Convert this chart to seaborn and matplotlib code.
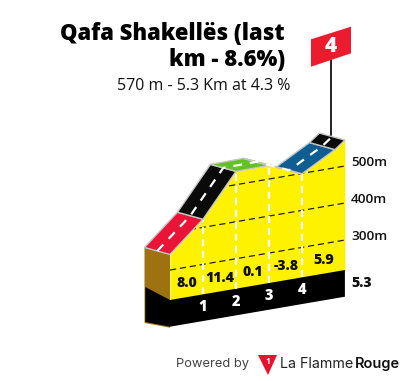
import numpy as np
import pandas as pd
import matplotlib
matplotlib.use("Agg")
import matplotlib.pyplot as plt
from matplotlib.patches import Polygon
import seaborn as sns

sns.set_theme(style="white")
plt.rcParams['font.family'] = ['Open Sans', 'DejaVu Sans']

# Data
km = [0, 1, 2, 3, 4, 5, 5.3]
altitude = [342, 422, 536, 537, 499, 549, 570]
segment_colors = ["#EA1436", "#0A0A0A", "#62C221", "#FFFFFF", "#0F5E92", "#0A0A0A"]
grades = ["8.0", "11.4", "0.1", "-3.8", "5.9"]
grade_starts = [0, 1, 2, 3, 4]
grade_ends = [1, 2, 3, 4, 5.3]
km_ticks = [1, 2, 3, 4]
grid_levels = [300, 400, 500]
grid_labels = ["300m", "400m", "500m"]
total_label = "5.3"
title = "Qafa Shakellës (last\nkm - 8.6%)"
subtitle = "570 m - 5.3 Km at 4.3 %"
flag_label = "4"

# Oblique projection (km, metres) -> figure pixels
X0, Y0, KX, KY, MY, BASE_ALT = 170.0, 300.0, 33.0, -5.66, 0.37, 219.0
DX, DY = -25.5, -7.0
def px(k):
    return X0 + KX * np.asarray(k, dtype=float)
def py(k, a=None):
    base = Y0 + KY * np.asarray(k, dtype=float)
    return base if a is None else base - MY * (np.asarray(a, dtype=float) - BASE_ALT)

fig = plt.figure(figsize=(4.05, 3.81), dpi=100)
ax = fig.add_axes([0, 0, 1, 1])
ax.set_xlim(0, 405); ax.set_ylim(381, 0); ax.axis("off")

kma, alta = np.array(km), np.array(altitude)
xs, ys = px(kma), py(kma, alta)
total = kma[-1]

# base slab and left face
bx, by = px([0, total]), py([0, total])
H = 26.7
BROWN = "#9E7210"
lx = bx[0] + DX
ax.add_patch(Polygon([(lx, ys[0]+DY), (xs[0], ys[0]), (bx[0], by[0]+H+1.0), (lx, by[0]+H-3.7)], fc=BROWN, ec="none", zorder=1))
ax.add_patch(Polygon([(lx+0.8, by[0]-13), (bx[0], by[0]), (bx[1], by[1]), (bx[1], by[1]+H), (bx[0], by[0]+H), (lx+0.8, by[0]+H-4.7)], fc="#000000", ec="none", zorder=3))

# yellow front face
front = pd.DataFrame({"km": km, "alt": altitude, "x": xs, "y": ys})
ax.fill_between(front["x"], front["y"], py(kma), color="#FFF200", lw=0, zorder=2)
clip = Polygon(list(zip(xs, ys)) + [(bx[1], by[1]), (bx[0], by[0])], transform=ax.transData, fc="none", ec="none")
ax.add_patch(clip)

# grid
for lev, lab in zip(grid_levels, grid_labels):
    gx = px([0, total]); gy = py([0, total], [lev, lev])
    sns.lineplot(x=gx, y=gy, ax=ax, color="#222222", lw=0.9, zorder=3, legend=False)
    l = ax.lines[-1]; l.set_linestyle((0, (5, 3))); l.set_clip_path(clip)
    ax.text(gx[1]+6, gy[1]-3.6, lab, fontsize=9.7, fontweight="semibold", color="#111111", va="center", ha="left", zorder=6)

# km tick dashes
for k in km_ticks:
    tx = px([k, k]); ty = [py(k), py(k, altitude[km.index(k)])]
    sns.lineplot(x=tx, y=ty, ax=ax, color="white", lw=1.6, zorder=4, legend=False, estimator=None, sort=False)
    ax.lines[-1].set_linestyle((0, (3.2, 2.2)))
    ax.text(px(k), py(k)+13, str(k), color="white", fontsize=10.5, fontweight="extra bold", ha="center", va="center", zorder=6)

# road
for i, c in enumerate(segment_colors):
    pts = [(xs[i], ys[i]), (xs[i+1], ys[i+1]), (xs[i+1]+DX, ys[i+1]+DY), (xs[i]+DX, ys[i]+DY)]
    ax.add_patch(Polygon(pts, fc=c, ec="#C4C4C4", lw=1.0, joinstyle="round", zorder=5))
sns.lineplot(x=xs+DX/2, y=ys+DY/2, ax=ax, color="white", lw=1.6, zorder=6, legend=False, estimator=None, sort=False)
ax.lines[-1].set_linestyle((0, (4, 3.5)))

# grade labels
for g, s, e in zip(grades, grade_starts, grade_ends):
    m = (s + e) / 2
    ax.text(px(m)+0.5, py(m)-14, g, fontsize=10.2, fontweight="extra bold", color="#111111", ha="center", va="center", zorder=6)
ax.text(bx[1]+6, by[1]+13, total_label, fontsize=10.2, fontweight="extra bold", color="#111111", ha="left", va="center", zorder=6)

# flag
fx = xs[-1]+DX/2 - 1.5
ax.plot([fx, fx], [ys[-1]+DY/2-2, 60], color="#111111", lw=1.3, zorder=7)
ax.add_patch(Polygon([(311, 39.3), (351, 26.7), (351, 53.3), (311, 66.7)], fc="#EC1C2E", ec="none", zorder=8))
ax.text(331, 46.5, flag_label, color="white", fontsize=15, fontweight="extra bold", ha="center", va="center", zorder=9)

# titles
ax.text(285, 47, title, fontsize=15.8, fontweight="extra bold", color="black", ha="right", va="center", linespacing=1.08, zorder=9)
ax.text(290, 86, subtitle, fontsize=11.5, color="#111111", ha="right", va="center", zorder=9)

# credit
ax.text(249, 364, "Powered by", fontsize=9.3, color="#444444", ha="right", va="center", family=["Inter", "DejaVu Sans"])
ax.add_patch(Polygon([(258, 355), (277, 355), (268, 375)], fc="#E5142C", ec="none"))
ax.text(268, 361, "1", color="white", fontsize=6, fontweight="bold", ha="center", va="center")
ax.text(280, 364, "La Flamme", fontsize=10.3, color="#222222", ha="left", va="center", family=["Inter", "DejaVu Sans"])
ax.text(400, 364, "Rouge", fontsize=10.5, color="#111111", fontweight="semibold", ha="right", va="center", family=["Inter", "DejaVu Sans"])

fig.savefig("out.png", dpi=100, facecolor="white")
